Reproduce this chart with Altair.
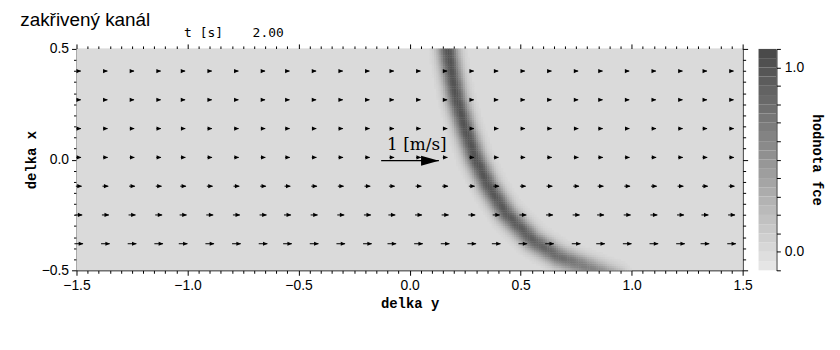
import altair as alt
import numpy as np
import pandas as pd

# ---------------- data ----------------
# centre line of the dark band (delka y, delka x) and its darkness
band_h = [0.165, 0.175, 0.19, 0.212, 0.249, 0.294, 0.354, 0.436, 0.555, 0.673, 0.838, 0.93]
band_v = [0.58, 0.477, 0.386, 0.273, 0.145, 0.010, -0.117, -0.245, -0.365, -0.44, -0.50, -0.53]
band_peak = [1.0, 1.0, 1.0, 1.0, 1.0, 1.0, 0.98, 0.95, 0.9, 0.8, 0.6, 0.4]
band_sigma = 0.031

# quiver grid (delka y columns, delka x rows) and speed per row [m/s]
quiver_cols = [-1.49, -1.37, -1.25, -1.13, -1.02, -0.90, -0.78, -0.66, -0.55, -0.43,
               -0.31, -0.19, -0.08, 0.04, 0.16, 0.28, 0.39, 0.51, 0.63, 0.75,
               0.86, 0.98, 1.10, 1.22, 1.33, 1.45]
quiver_rows = [0.40, 0.27, 0.14, 0.01, -0.12, -0.25, -0.38]
row_speed = [0.07, 0.07, 0.075, 0.08, 0.10, 0.12, 0.15]
arrow_scale = 0.259  # data units per 1 m/s

# reference arrow "1 [m/s]"
ref_tail, ref_tip, ref_v = -0.128, 0.132, -0.005
ref_label = "1 [m/s]"
ref_label_pos = (0.033, 0.068)

# time stamp
time_texts = ["t [s]", "2.00"]
time_h = [-0.928, -0.637]
time_v = [0.572, 0.572]

# colour bar levels
cbar_levels = [round(-0.1 + 0.05 * i, 2) for i in range(24)]

# ---------------- build tables ----------------
nh, nv = 300, 100
hs = np.linspace(-1.5, 1.5, nh + 1)[:-1]
vs = np.linspace(-0.5, 0.5, nv + 1)[:-1]
cw, ch = 3.0 / nh, 1.0 / nv
# dense centre line
t = np.linspace(0, len(band_h) - 1, 600)
idx = np.arange(len(band_h))
ch_line = np.interp(t, idx, band_h)
cv_line = np.interp(t, idx, band_v)
cp_line = np.interp(t, idx, band_peak)

rows = [dict(x0=-1.5, x1=1.5, y0=-0.5, y1=0.5, value=0.0)]
for v0 in vs:
    cy = v0 + ch / 2
    cx = hs + cw / 2
    d2 = (cx[:, None] - ch_line[None, :]) ** 2 + (cy - cv_line[None, :]) ** 2
    k = np.argmin(d2, axis=1)
    val = cp_line[k] * np.exp(-d2[np.arange(len(cx)), k] / (2 * band_sigma ** 2))
    for h0, vv in zip(hs, val):
        if vv > 0.02:
            rows.append(dict(x0=h0, x1=h0 + cw * 1.15, y0=v0, y1=v0 + ch * 1.15, value=round(float(vv), 3)))
field = pd.DataFrame(rows)

q = []
for v, s in zip(quiver_rows, row_speed):
    L = s * arrow_scale
    for h in quiver_cols:
        q.append(dict(v=v, tail=h - L / 2, tip=h + L / 2, head=h + L / 2 - 0.009))
quiver = pd.DataFrame(q)

ref = pd.DataFrame([dict(tail=ref_tail, tip=ref_tip, v=ref_v, head=ref_tip - 0.04)])
ref_txt = pd.DataFrame([dict(h=ref_label_pos[0], v=ref_label_pos[1], label=ref_label)])
time_df = pd.DataFrame(dict(h=time_h, v=time_v, label=time_texts))
cbar = pd.DataFrame(dict(lo=cbar_levels, hi=[round(c + 0.05, 2) for c in cbar_levels],
                         value=[round(c + 0.025, 3) for c in cbar_levels]))

# ---------------- scales & axes ----------------
XS = alt.Scale(domain=[-1.5, 1.5], nice=False, zero=False)
YS = alt.Scale(domain=[-0.5, 0.5], nice=False, zero=False)
COL = alt.Scale(domain=[-0.1, 1.1], range=["#e9e9e9", "#474747"])

xticks = [round(-1.5 + 0.05 * i, 2) for i in range(61)]
yticks = [round(-0.5 + 0.05 * i, 2) for i in range(21)]
major = "abs(datum.value*2 - round(datum.value*2)) < 0.001"
tick_cond = {"condition": {"test": major, "value": 5}, "value": 3}
LBL = dict(labelFont="Liberation Sans", labelFontSize=14, labelColor="black",
           domainColor="black", tickColor="black", labelFlush=False,
           labelOverlap=False, labelBound=False, grid=False)
TTL = dict(titleFont="Liberation Mono", titleFontSize=14, titleFontWeight="bold",
           titleColor="black")

ax_bottom = alt.Axis(orient="bottom", values=xticks, tickSize=tick_cond, labelPadding=3,
                     labelExpr=f"{major} ? format(datum.value, '.1f') : ''",
                     title="delka y", titlePadding=4, **LBL, **TTL)
ax_left = alt.Axis(orient="left", values=yticks, tickSize=tick_cond, labelPadding=3,
                   labelExpr=f"{major} ? format(datum.value, '.1f') : ''",
                   title="delka x", titlePadding=3, **LBL, **TTL)
ax_top = alt.Axis(orient="top", values=xticks, tickSize=tick_cond, labels=False, title=None, **LBL)
ax_right = alt.Axis(orient="right", values=yticks, tickSize=tick_cond, labels=False, title=None, **LBL)

cticks = [round(-0.1 + 0.1 * i, 2) for i in range(13)]
ax_cbar = alt.Axis(orient="right", offset=34, values=cticks, tickSize=4, labelPadding=4,
                   labelExpr="abs(datum.value) < 0.001 || abs(datum.value-1) < 0.001 ? format(datum.value, '.1f') : ''",
                   title="hodnota fce", titleAngle=90, titlePadding=6, **LBL, **TTL)


def X(f, axis=None):
    return alt.X(f, type="quantitative", scale=XS, axis=axis)


def Y(f, axis=None):
    return alt.Y(f, type="quantitative", scale=YS, axis=axis)


heat = alt.Chart(field).mark_rect(strokeWidth=0).encode(
    x=X("x0", ax_bottom), x2="x1", y=Y("y0", ax_left), y2="y1",
    color=alt.Color("value:Q", scale=COL, legend=None),
)

q_lines = alt.Chart(quiver).mark_rule(color="black", strokeWidth=1).encode(
    x=X("tail", ax_top), x2="tip", y=Y("v", ax_right)
)
q_heads = alt.Chart(quiver).mark_point(
    shape="M-1,-0.9L1,0L-1,0.9Z", size=22, filled=True, color="black", opacity=1
).encode(x=X("head"), y=Y("v"))

r_line = alt.Chart(ref).mark_rule(color="black", strokeWidth=1.2).encode(
    x=X("tail"), x2="tip", y=Y("v")
)
r_head = alt.Chart(ref).mark_point(
    shape="M-1,-0.55L1,0L-1,0.55Z", size=324, filled=True, color="black", opacity=1
).encode(x=X("head"), y=Y("v"))
r_text = alt.Chart(ref_txt).mark_text(font="DejaVu Serif", fontSize=17, color="black").encode(
    x=X("h"), y=Y("v"), text="label"
)
t_text = alt.Chart(time_df).mark_text(font="DejaVu Sans Mono", fontSize=13, color="black").encode(
    x=X("h"), y=Y("v"), text="label"
)

cbar_chart = alt.Chart(cbar).mark_rect(strokeWidth=0).encode(
    x=alt.value(687), x2=alt.value(705),
    y=alt.Y("lo:Q", scale=alt.Scale(domain=[-0.1, 1.1], nice=False, zero=False), axis=ax_cbar),
    y2="hi",
    color=alt.Color("value:Q", scale=COL, legend=None),
)

chart = alt.layer(
    heat, q_lines, q_heads, r_line, r_head, r_text, t_text, cbar_chart
).resolve_scale(x="independent", y="independent").resolve_axis(
    x="independent", y="independent"
).properties(
    width=671, height=223,
    title=alt.TitleParams("zakřivený kanál", anchor="start", font="Liberation Sans",
                          fontSize=19, fontWeight="normal", color="black", dx=-4, dy=7, offset=4),
    autosize=alt.AutoSizeParams(type="none"),
    padding={"left": 69, "top": 40, "right": 90, "bottom": 70},
).configure_view(stroke=None)

chart.save("out.html", embed_options={"renderer": "svg", "actions": False})
